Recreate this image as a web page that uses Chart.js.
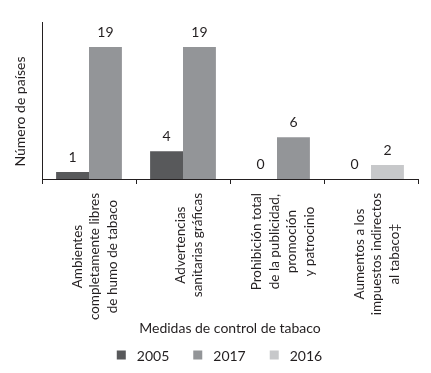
<!DOCTYPE html>
<html>
<head>
<meta charset="utf-8">
<script src="https://cdn.jsdelivr.net/npm/chart.js@4/dist/chart.umd.min.js"></script>
<style>
  html, body { margin: 0; padding: 0; background: #fff; }
  #wrap { width: 431px; height: 373px; }
</style>
</head>
<body>
<div id="wrap"><canvas id="chart" width="431" height="373"></canvas></div>
<script>
var CATEGORIAS = [
  ['Ambientes', 'completamente libres', 'de humo de tabaco'],
  ['Advertencias', 'sanitarias gráficas'],
  ['Prohibición total', 'de la publicidad,', 'promoción', 'y patrocinio'],
  ['Aumentos a los', 'impuestos indirectos', 'al tabaco‡']
];
var ANIOS = ['2005', '2017', '2016'];
var V2005 = [1, 4, 0, 0];
var V2017 = [19, 19, 6, null];
var V2016 = [null, null, null, 2];
var COLORS = ['#58595b', '#939598', '#c7c8ca'];
var INK = '#231f20';
var FONT = 'Lato';
var TITULO_Y = 'Número de países';

Chart.defaults.font.family = FONT;
Chart.defaults.color = INK;

// etiquetas de valor encima de cada barra
var valueLabels = {
  id: 'valueLabels',
  afterDatasetsDraw: function(chart) {
    var ctx = chart.ctx;
    ctx.save();
    ctx.font = '14px ' + FONT;
    ctx.fillStyle = INK;
    ctx.textAlign = 'center';
    ctx.textBaseline = 'middle';
    chart.data.datasets.forEach(function(ds, d) {
      var meta = chart.getDatasetMeta(d);
      meta.data.forEach(function(bar, i) {
        if (ds.data[i] === null) return;
        ctx.fillText(String(ds.data[i]), bar.x, bar.y - 15);
      });
    });
    ctx.restore();
  }
};

// etiquetas de categoria giradas, lineas centradas entre si
var catLabels = {
  id: 'catLabels',
  afterDraw: function(chart) {
    var ctx = chart.ctx;
    var xs = chart.scales.x;
    var lh = 17.5;
    ctx.save();
    ctx.font = '13.5px ' + FONT;
    ctx.fillStyle = INK;
    ctx.textAlign = 'center';
    ctx.textBaseline = 'middle';
    CATEGORIAS.forEach(function(lines, i) {
      var cx = xs.getPixelForValue(i) + 6;
      var maxW = 0;
      lines.forEach(function(l) { maxW = Math.max(maxW, ctx.measureText(l).width); });
      var cy = xs.top + 14 + maxW / 2;
      lines.forEach(function(l, j) {
        ctx.save();
        ctx.translate(cx + (j - (lines.length - 1) / 2) * lh, cy);
        ctx.rotate(-Math.PI / 2);
        ctx.fillText(l, 0, 0);
        ctx.restore();
      });
    });
    ctx.restore();
  }
};

// titulo del eje y, algo por debajo del centro como en el original
var tituloY = {
  id: 'tituloY',
  afterDraw: function(chart) {
    var ctx = chart.ctx;
    var a = chart.chartArea;
    ctx.save();
    ctx.font = '14px ' + FONT;
    ctx.fillStyle = INK;
    ctx.textAlign = 'center';
    ctx.textBaseline = 'middle';
    ctx.translate(20, (a.top + a.bottom) / 2 + 11);
    ctx.rotate(-Math.PI / 2);
    ctx.fillText(TITULO_Y, 0, 0);
    ctx.restore();
  }
};

// leyenda propia, centrada abajo
var leyenda = {
  id: 'leyenda',
  afterDraw: function(chart) {
    var ctx = chart.ctx;
    var box = 9, gapText = 11, gapItem = 24, y = 355;
    ctx.save();
    ctx.font = '14px ' + FONT;
    ctx.textBaseline = 'middle';
    ctx.textAlign = 'left';
    var total = 0;
    ANIOS.forEach(function(a, k) {
      total += box + gapText + ctx.measureText(a).width + (k ? gapItem : 0);
    });
    var x = (chart.width - total) / 2 + 4;
    ANIOS.forEach(function(a, k) {
      ctx.fillStyle = COLORS[k];
      ctx.fillRect(x, y - box / 2, box, box);
      ctx.fillStyle = INK;
      ctx.fillText(a, x + box + gapText, y + 1);
      x += box + gapText + ctx.measureText(a).width + gapItem;
    });
    ctx.restore();
  }
};

new Chart(document.getElementById('chart'), {
  type: 'bar',
  data: {
    labels: CATEGORIAS,
    datasets: [
      { label: ANIOS[0], data: V2005, backgroundColor: COLORS[0] },
      { label: ANIOS[1], data: V2017, backgroundColor: COLORS[1] },
      { label: ANIOS[2], data: V2016, backgroundColor: COLORS[2] }
    ]
  },
  options: {
    responsive: false,
    animation: false,
    skipNull: true,
    datasets: { bar: { categoryPercentage: 0.7, barPercentage: 1 } },
    layout: { padding: { top: 22, right: 13, bottom: 30, left: 0 } },
    plugins: {
      legend: { display: false },
      tooltip: { enabled: false }
    },
    scales: {
      x: {
        grid: { display: true, drawOnChartArea: false, drawTicks: true, tickLength: 5, color: INK, offset: true },
        border: { display: true, color: INK, width: 1 },
        ticks: { display: false },
        title: {
          display: true,
          text: 'Medidas de control de tabaco',
          font: { size: 14 },
          color: INK,
          padding: { top: 0, bottom: 6.6 }
        },
        afterFit: function(scale) { scale.height = 164; }
      },
      y: {
        min: 0,
        max: 22.6,
        grid: { display: false },
        border: { display: true, color: INK, width: 1 },
        ticks: { display: false },
        title: { display: false },
        afterFit: function(scale) { scale.width = 42; }
      }
    }
  },
  plugins: [valueLabels, catLabels, tituloY, leyenda]
});
</script>
</body>
</html>
